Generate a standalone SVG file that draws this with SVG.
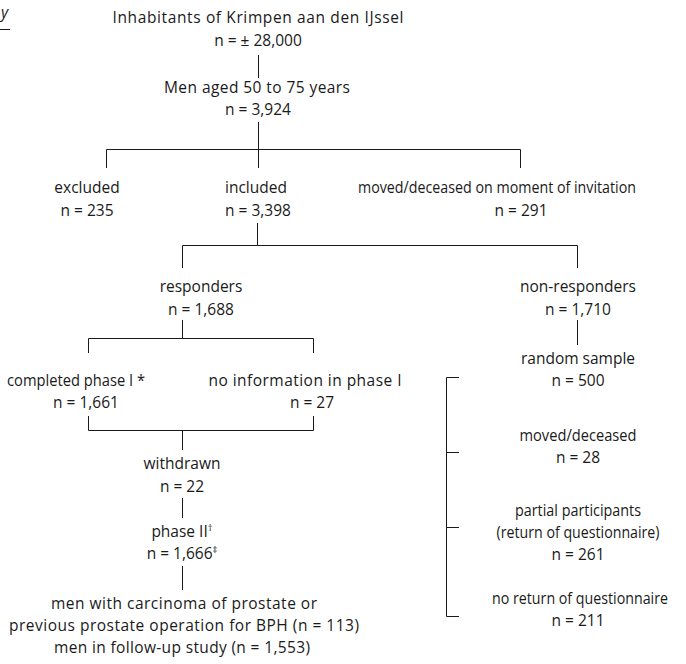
<svg xmlns="http://www.w3.org/2000/svg" width="686" height="664" viewBox="0 0 686 664">
<style>
text{font-family:"Open Sans","Noto Sans","Liberation Sans",sans-serif;font-size:15.5px;fill:#1a1a1a;text-anchor:middle}
.l{fill:none;stroke:#1a1a1a;stroke-width:1}
.sup{font-size:9.5px}
</style>
<rect width="686" height="664" fill="#fff"/>
<g id="corner">
<text x="4.5" y="18" style="font-style:italic">y</text>
<line class="l" x1="0" y1="29.5" x2="10" y2="29.5"/>
</g>
<g id="connectors">
<line class="l" x1="258.5" y1="55" x2="258.5" y2="78"/>
<line class="l" x1="258.5" y1="122" x2="258.5" y2="168"/>
<polyline class="l" points="106.5,168 106.5,149.5 520.5,149.5 520.5,168"/>
<line class="l" x1="257.5" y1="223" x2="257.5" y2="245"/>
<polyline class="l" points="182.5,268 182.5,245.5 577.5,245.5 577.5,268"/>
<line class="l" x1="182.5" y1="320" x2="182.5" y2="338"/>
<polyline class="l" points="88.5,353 88.5,338.5 313.5,338.5 313.5,353"/>
<polyline class="l" points="88.5,416 88.5,430.5 313.5,430.5 313.5,416"/>
<line class="l" x1="182.5" y1="430" x2="182.5" y2="450"/>
<line class="l" x1="182.5" y1="498" x2="182.5" y2="518"/>
<line class="l" x1="182.5" y1="566" x2="182.5" y2="590"/>
<line class="l" x1="577.5" y1="320" x2="577.5" y2="345"/>
<polyline class="l" points="459,377.5 446.5,377.5 446.5,616.5 459,616.5"/>
<line class="l" x1="446.5" y1="452.5" x2="459" y2="452.5"/>
<line class="l" x1="446.5" y1="527.5" x2="459" y2="527.5"/>
</g>
<g id="inhabitants"><text x="258" y="23" textLength="291" lengthAdjust="spacing">Inhabitants of Krimpen aan den IJssel</text><text x="258" y="46">n = ± 28,000</text></g>
<g id="men"><text x="257" y="93" textLength="186" lengthAdjust="spacing">Men aged 50 to 75 years</text><text x="258" y="115">n = 3,924</text></g>
<g id="excluded"><text x="87" y="193">excluded</text><text x="87" y="216">n = 235</text></g>
<g id="included"><text x="256" y="193">included</text><text x="258" y="216">n = 3,398</text></g>
<g id="moved1"><text x="497" y="193" textLength="278" lengthAdjust="spacingAndGlyphs">moved/deceased on moment of invitation</text><text x="521" y="216">n = 291</text></g>
<g id="responders"><text x="201" y="292">responders</text><text x="201" y="315">n = 1,688</text></g>
<g id="nonresponders"><text x="578" y="292">non-responders</text><text x="578" y="315">n = 1,710</text></g>
<g id="completed"><text x="76" y="386" textLength="138" lengthAdjust="spacingAndGlyphs">completed phase I *</text><text x="86" y="408">n = 1,661</text></g>
<g id="noinfo"><text x="305" y="386" textLength="193" lengthAdjust="spacing">no information in phase I</text><text x="312" y="408">n = 27</text></g>
<g id="withdrawn"><text x="182" y="469">withdrawn</text><text x="182" y="492">n = 22</text></g>
<g id="phase2"><text x="182" y="537">phase II<tspan class="sup" dy="-6">†</tspan></text><text x="182" y="559">n = 1,666<tspan class="sup" dy="-6">‡</tspan></text></g>
<g id="followup"><text x="184" y="609" textLength="266" lengthAdjust="spacing">men with carcinoma of prostate or</text><text x="184" y="631" textLength="350" lengthAdjust="spacing">previous prostate operation for BPH (n = 113)</text><text x="182" y="653" textLength="256" lengthAdjust="spacing">men in follow-up study (n = 1,553)</text></g>
<g id="random"><text x="578" y="364">random sample</text><text x="578" y="386">n = 500</text></g>
<g id="moved2"><text x="578" y="441" textLength="117" lengthAdjust="spacingAndGlyphs">moved/deceased</text><text x="578" y="463">n = 28</text></g>
<g id="partial"><text x="578" y="516" textLength="126" lengthAdjust="spacingAndGlyphs">partial participants</text><text x="578" y="538" textLength="163" lengthAdjust="spacingAndGlyphs">(return of questionnaire)</text><text x="578" y="560">n = 261</text></g>
<g id="noreturn"><text x="580" y="604" textLength="176" lengthAdjust="spacingAndGlyphs">no return of questionnaire</text><text x="578" y="626">n = 211</text></g>
</svg>
